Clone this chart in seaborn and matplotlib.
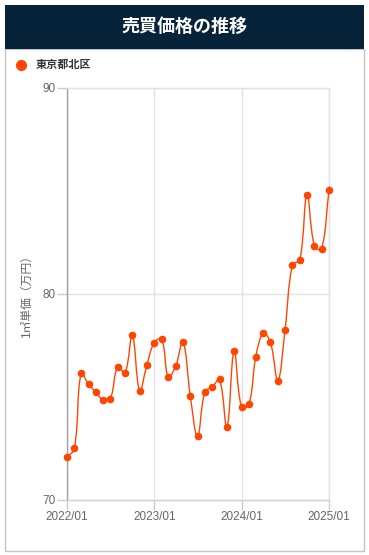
import numpy as np
import pandas as pd
import matplotlib
matplotlib.use("Agg")
import matplotlib.pyplot as plt
import matplotlib.dates as mdates
from matplotlib.path import Path
from matplotlib.patches import PathPatch, Rectangle
from matplotlib.lines import Line2D
import seaborn as sns

# --- data ---
months = pd.date_range("2022-01-01", "2025-01-01", freq="MS")
price = [72.07, 72.51, 76.15, 75.62, 75.24, 74.85, 74.92, 76.46, 76.18, 78.00,
         75.31, 76.54, 77.64, 77.80, 75.97, 76.52, 77.69, 75.03, 73.09, 75.26,
         75.49, 75.86, 73.54, 77.23, 74.50, 74.64, 76.96, 78.09, 77.65, 75.79,
         78.24, 81.41, 81.65, 84.82, 82.33, 82.18, 85.05]
series_name = "東京都北区"
title = "売買価格の推移"
y_label = "1㎡単価（万円）"
y_ticks = [70, 80, 90]
x_ticks = ["2022-01-01", "2023-01-01", "2024-01-01", "2025-01-01"]
x_tick_labels = ["2022/01", "2023/01", "2024/01", "2025/01"]

ORANGE = "#ff4500"
NAVY = "#06233a"
W, H = 369, 555

sns.set_theme(style="white")
plt.rcParams["font.family"] = ["Liberation Sans", "Noto Sans CJK JP"]

fig = plt.figure(figsize=(W / 100, H / 100), dpi=100)


def fx(px):
    return px / W


def fy(py):
    return 1 - py / H


# panel frame + title bar
fig.patches.append(Rectangle((fx(5), fy(551)), fx(359), (551 - 49) / H,
                             transform=fig.transFigure, fill=False,
                             edgecolor="#c4c4c4", lw=1))
fig.patches.append(Rectangle((fx(5), fy(49)), fx(359), 44 / H,
                             transform=fig.transFigure, facecolor=NAVY,
                             edgecolor="none"))
fig.text(0.5, fy(27), title, color="white", fontsize=13, fontweight="bold",
         ha="center", va="center")

# legend
fig.lines.append(Line2D([fx(20.5)], [fy(65)], marker="o", markersize=7,
                        color=ORANGE, transform=fig.transFigure))
fig.text(fx(36), fy(65), series_name, color="#333333", fontsize=8,
         fontweight="bold", ha="left", va="center")

ax = fig.add_axes([fx(67), fy(500), fx(262), 412 / H])
df = pd.DataFrame({"month": months, "price": price})

sns.scatterplot(data=df, x="month", y="price", color=ORANGE, s=30,
                linewidth=0, ax=ax, zorder=4, legend=False, clip_on=False)

ax.set_xlim(months[0], months[-1])
ax.set_ylim(70, 90)
ax.set_yticks(y_ticks)
ax.set_xticks(pd.to_datetime(x_ticks))
ax.set_xticklabels(x_tick_labels)
ax.set_xlabel("")
ax.set_ylabel(y_label, color="#666666", fontsize=8.5)
ax.yaxis.set_label_coords(-0.13, 0.5)

ax.grid(True, color="#e2e2e2", lw=1)
ax.set_axisbelow(True)
ax.tick_params(left=True, bottom=True, length=7, width=1, color="#cccccc",
               labelcolor="#666666", labelsize=8.5, pad=1)
ax.spines["left"].set_color("#a0a0a0")
ax.spines["bottom"].set_color("#d0d0d0")
for s in ("top", "right"):
    ax.spines[s].set_color("#e2e2e2")
for s in ax.spines.values():
    s.set_linewidth(1)

# smooth line (Chart.js style spline, tension 0.4, computed in pixel space)
xs = mdates.date2num(df["month"])
pts = ax.transData.transform(np.column_stack([xs, df["price"]]))
n = len(pts)
cp_prev = pts.copy()
cp_next = pts.copy()
t = 0.4
for i in range(n):
    p0 = pts[max(i - 1, 0)]
    p1 = pts[i]
    p2 = pts[min(i + 1, n - 1)]
    d01 = np.hypot(*(p1 - p0))
    d12 = np.hypot(*(p2 - p1))
    tot = d01 + d12
    s01 = d01 / tot if tot else 0
    s12 = d12 / tot if tot else 0
    cp_prev[i] = p1 - t * s01 * (p2 - p0)
    cp_next[i] = p1 + t * s12 * (p2 - p0)

verts = [pts[0]]
codes = [Path.MOVETO]
for i in range(n - 1):
    verts += [cp_next[i], cp_prev[i + 1], pts[i + 1]]
    codes += [Path.CURVE4] * 3
verts = ax.transData.inverted().transform(np.array(verts))
ax.add_patch(PathPatch(Path(verts, codes), fill=False, edgecolor=ORANGE,
                       lw=1.0, zorder=3, transform=ax.transData))

fig.savefig("out.png", dpi=100)
